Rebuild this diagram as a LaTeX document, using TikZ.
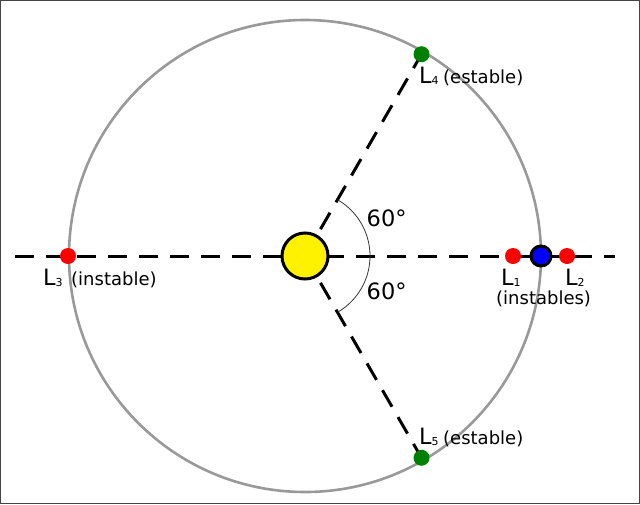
\documentclass[tikz,border=0pt]{standalone}
\usepackage{fontspec}
\setmainfont{DejaVu Sans}
\usetikzlibrary{calc}
\begin{document}
\begin{tikzpicture}[x=1pt,y=-1pt,
  orbit/.style={draw=orbitgray,line width=2.6pt},
  axis/.style={draw=black,line width=3pt,dash pattern=on 19pt off 12pt},
  dot/.style={circle,inner sep=0pt,minimum size=16pt},
  lbl/.style={anchor=base west,inner sep=0pt,font=\fontsize{22.5}{26}\selectfont},
  par/.style={anchor=base west,inner sep=0pt,font=\fontsize{18}{21}\selectfont}]
\definecolor{orbitgray}{HTML}{999999}
\definecolor{framegray}{HTML}{444444}
\definecolor{lgreen}{HTML}{008000}
\newcommand{\lsub}[1]{\raisebox{-1pt}{\fontsize{11}{11}\selectfont #1}}
\useasboundingbox (0,0) rectangle (640,504);
\draw[framegray,line width=1pt] (0.5,0.5) rectangle (639.5,503.5);
\coordinate (O) at (305,256);
\draw[orbit] (O) circle[radius=236];
\coordinate (left) at (15,256);
\coordinate (right) at (615,256);
\coordinate (up) at ($(O)+(-60:245)$);
\coordinate (down) at ($(O)+(60:245)$);
\draw[axis] (left) -- (right);
\draw[axis] (O) -- (up);
\draw[axis] (O) -- (down);
\draw[black!80,line width=0.8pt] ($(O)+(-60:65)$) arc[start angle=-60,end angle=60,radius=65];
\node[circle,draw=black,line width=3pt,fill=yellow,minimum size=46pt,inner sep=0pt] (sun) at (O) {};
\node[circle,draw=black,line width=3pt,fill=blue,minimum size=20pt,inner sep=0pt] (earth) at (541,256) {};
\node[dot,fill=red] (L1) at (513,256) {};
\node[dot,fill=red] (L2) at (567,256) {};
\node[dot,fill=red] (L3) at (68,256) {};
\node[dot,fill=lgreen] (L4) at ($(O)+(-60:233)$) {};
\node[dot,fill=lgreen] (L5) at ($(O)+(60:233)$) {};
\node[lbl] (a1) at (366.5,226) {60°};
\node[lbl] (a2) at (366.5,299) {60°};
\node[lbl] (t4) at (419,83) {L\lsub{4}};
\node[par] (p4) at (443,83) {(estable)};
\node[lbl] (t5) at (419,444) {L\lsub{5}};
\node[par] (p5) at (443,444) {(estable)};
\node[lbl] (t3) at (43,285) {L\lsub{3}};
\node[par] (p3) at (71,285) {(instable)};
\node[lbl] (t1) at (501,285) {L\lsub{1}};
\node[lbl] (t2) at (565,285) {L\lsub{2}};
\node[par] (t12) at (496,304) {(instables)};
\end{tikzpicture}
\end{document}
